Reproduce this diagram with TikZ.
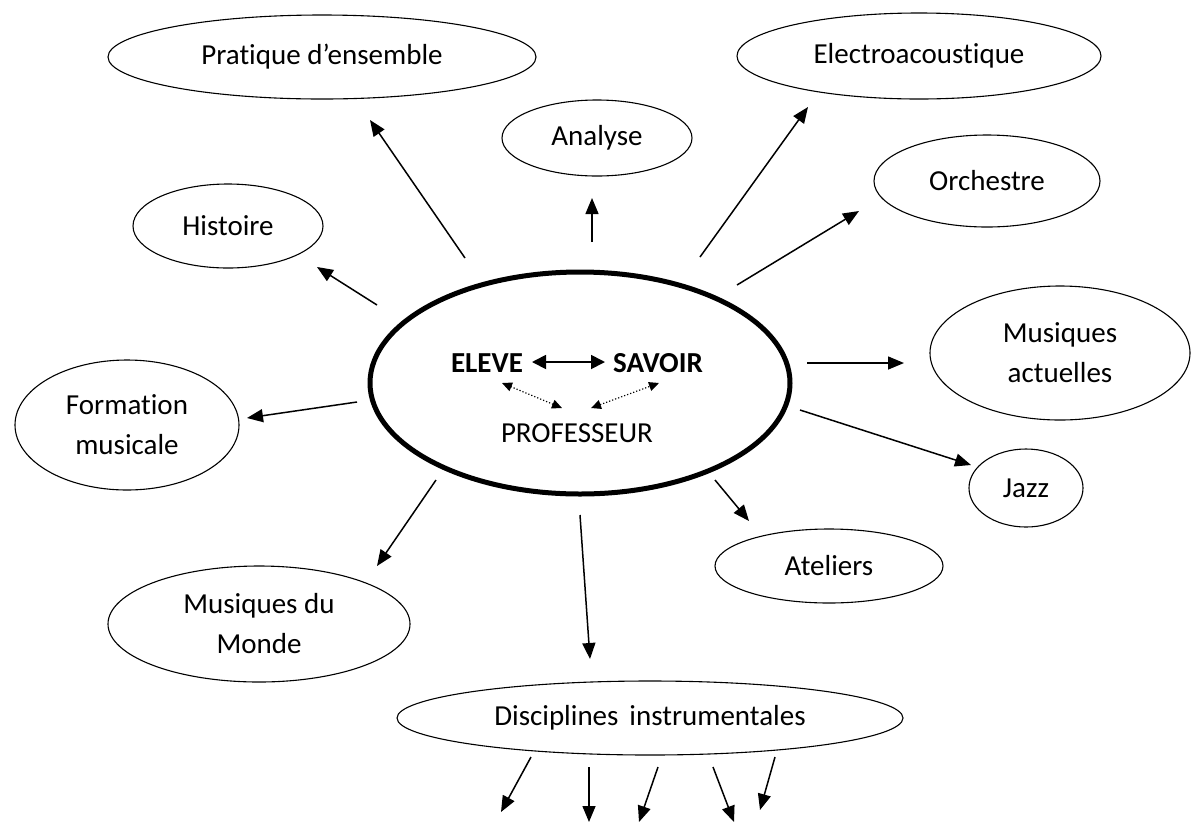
\documentclass[tikz,border=0pt]{standalone}
\usepackage{fontspec}
\setmainfont{Carlito}[RawFeature={-liga;-clig;-dlig;-calt}]
\usetikzlibrary{arrows.meta,shapes.geometric}
\begin{document}
\begin{tikzpicture}[x=1pt,y=-1pt,
  bub/.style={draw,ellipse,line width=1.1pt,inner sep=0pt,align=center,font=\fontsize{29}{40}\selectfont},
  arr/.style={line width=1.5pt,-{Triangle[length=16pt,width=13pt]}},
  darr/.style={line width=1.2pt,dotted,{Triangle[length=10pt,width=9pt]}-{Triangle[length=10pt,width=9pt]}},
  barr/.style={line width=1.8pt,{Triangle[length=14pt,width=14pt]}-{Triangle[length=14pt,width=14pt]}},
  lbl/.style={inner sep=0pt,font=\fontsize{29}{32}\selectfont}]
\useasboundingbox (0,0) rectangle (1197,823);
% central ellipse
\draw[line width=5pt] (580,383) ellipse [x radius=210, y radius=111];
\node[lbl,font=\fontsize{29}{32}\selectfont\bfseries] (eleve) at (487,363) {ELEVE};
\node[lbl,font=\fontsize{29}{32}\selectfont\bfseries] (savoir) at (658,363) {SAVOIR};
\node[lbl] (prof) at (577,433) {PROFESSEUR};
\coordinate (es1) at (532,362);
\coordinate (es2) at (605,362);
\draw[barr] (es1) -- (es2);
\coordinate (pl1) at (562,408);
\coordinate (pl2) at (502,383);
\coordinate (pr1) at (591,408);
\coordinate (pr2) at (659,383);
\draw[darr] (pl1) -- (pl2);
\draw[darr] (pr1) -- (pr2);
% satellite nodes
\node[bub,minimum width=428pt,minimum height=84pt] (prat) at (322,57) {Prat\kern0pt ique d’ensemble};
\node[bub,minimum width=190pt,minimum height=76pt] (ana) at (597,138) {Analyse};
\node[bub,minimum width=364pt,minimum height=86pt] (elec) at (919,56) {Electroacoust\kern0pt ique};
\node[bub,minimum width=226pt,minimum height=92pt] (orch) at (987,181) {Orchestre};
\node[bub,minimum width=190pt,minimum height=84pt] (hist) at (228,226) {Histoire};
\node[bub,minimum width=224pt,minimum height=130pt] (form) at (127,425) {Format\kern0pt ion\\musicale};
\node[bub,minimum width=260pt,minimum height=134pt] (mact) at (1060,353) {Musiques\\actuelles};
\node[bub,minimum width=114pt,minimum height=78pt] (jazz) at (1026,488) {Jazz};
\node[bub,minimum width=228pt,minimum height=74pt] (atel) at (829,566) {Ateliers};
\node[bub,minimum width=302pt,minimum height=116pt] (mdm) at (259,624) {Musiques du\\Monde};
\node[bub,minimum width=506pt,minimum height=74pt] (disc) at (650,718) {Disciplines\hspace{0.15em} instrumentales};
% connector end points
\coordinate (a1s) at (465,258); \coordinate (a1e) at (370,120);
\coordinate (a2s) at (592,242); \coordinate (a2e) at (592,198);
\coordinate (a3s) at (700,257); \coordinate (a3e) at (808,107);
\coordinate (a4s) at (737,285); \coordinate (a4e) at (859,211);
\coordinate (a5s) at (377,305); \coordinate (a5e) at (317,267);
\coordinate (a6s) at (357,402); \coordinate (a6e) at (247,418);
\coordinate (a7s) at (807,363); \coordinate (a7e) at (904,363);
\coordinate (a8s) at (800,410); \coordinate (a8e) at (971,465);
\coordinate (a9s) at (715,480); \coordinate (a9e) at (749,521);
\coordinate (a10s) at (436,480); \coordinate (a10e) at (377,566);
\coordinate (a11s) at (580,515); \coordinate (a11e) at (590,659);
\draw[arr] (a1s) -- (a1e);
\draw[arr] (a2s) -- (a2e);
\draw[arr] (a3s) -- (a3e);
\draw[arr] (a4s) -- (a4e);
\draw[arr] (a5s) -- (a5e);
\draw[arr] (a6s) -- (a6e);
\draw[arr] (a7s) -- (a7e);
\draw[arr] (a8s) -- (a8e);
\draw[arr] (a9s) -- (a9e);
\draw[arr] (a10s) -- (a10e);
\draw[arr] (a11s) -- (a11e);
% bottom arrows
\coordinate (b1s) at (531,757); \coordinate (b1e) at (501,812);
\coordinate (b2s) at (589,767); \coordinate (b2e) at (589,822);
\coordinate (b3s) at (658,767); \coordinate (b3e) at (639,822);
\coordinate (b4s) at (713,767); \coordinate (b4e) at (734,822);
\coordinate (b5s) at (775,757); \coordinate (b5e) at (760,810);
\draw[arr] (b1s) -- (b1e);
\draw[arr] (b2s) -- (b2e);
\draw[arr] (b3s) -- (b3e);
\draw[arr] (b4s) -- (b4e);
\draw[arr] (b5s) -- (b5e);
\end{tikzpicture}
\end{document}
